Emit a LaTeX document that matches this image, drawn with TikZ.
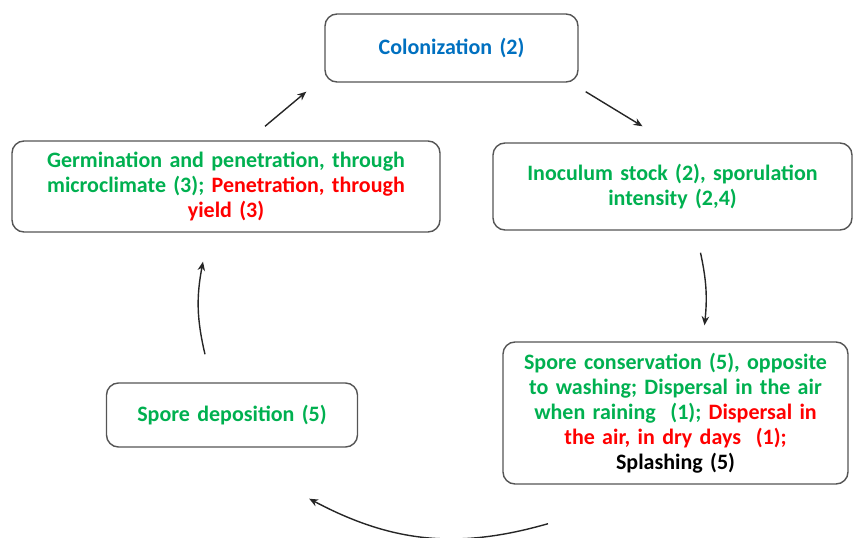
\documentclass[tikz,border=0pt]{standalone}
\usepackage{fontspec}
\setmainfont{Carlito}
\usepackage{tikz}
\usetikzlibrary{arrows.meta,positioning,calc}
\usepackage{xcolor}
\definecolor{cblue}{HTML}{0070C0}
\definecolor{cgreen}{HTML}{00B050}
\definecolor{cred}{HTML}{FF0000}
\definecolor{cframe}{HTML}{555555}

\begin{document}
\begin{tikzpicture}[x=1pt,y=-1pt,
  box/.style={draw=cframe,line width=1.4pt,rounded corners=12pt,align=center,inner sep=0pt,
    font=\bfseries\fontsize{22}{25}\selectfont,text=cgreen},
  arr/.style={-{Stealth[length=9pt,width=7.5pt]},line width=1.4pt,black!85}
]
\useasboundingbox (0,0) rectangle (857,538);
\node[box,text=cblue,minimum width=253pt,minimum height=68pt,text width=230pt] (colon) at (451.5,48) {Colonization (2)};
\node[box,minimum width=428pt,minimum height=91pt,text width=410pt] (germ) at (226,186.5)
  {Germination and penetration, through\\ microclimate (3); \color{cred}Penetration, through\\ yield (3)};
\node[box,minimum width=359pt,minimum height=87pt,text width=340pt] (inoc) at (672.5,186.5)
  {Inoculum stock (2), sporulation\\ intensity (2,4)};
\node[box,minimum width=345pt,minimum height=142pt,text width=335pt] (scon) at (675.5,413)
  {Spore conservation (5), opposite\\ to washing; Dispersal in the air\\ when raining\ \ (1); \color{cred}Dispersal in\\ the air, in dry days\ \ (1);\\ \color{black}Splashing (5)};
\node[box,minimum width=251pt,minimum height=64pt,text width=235pt] (dep) at (232,415) {Spore deposition (5)};
\draw[arr] ($(germ.north)+(39,-14)$) -- ($(colon.south west)+(-18,9)$);
\draw[arr] ($(colon.south east)+(7,9)$) -- ($(inoc.north)+(-30,-16)$);
\draw[arr] ($(inoc.south)+(28,22)$) to[bend left=9] ($(scon.north)+(29,-16)$);
\draw[arr] ($(scon.south)+(-127.5,39)$) to[bend left=22] ($(dep.south east)+(-49,51)$);
\draw[arr] ($(dep.north)+(-27,-28)$) to[bend left=12] ($(germ.south)+(-23,29)$);
\end{tikzpicture}
\end{document}
